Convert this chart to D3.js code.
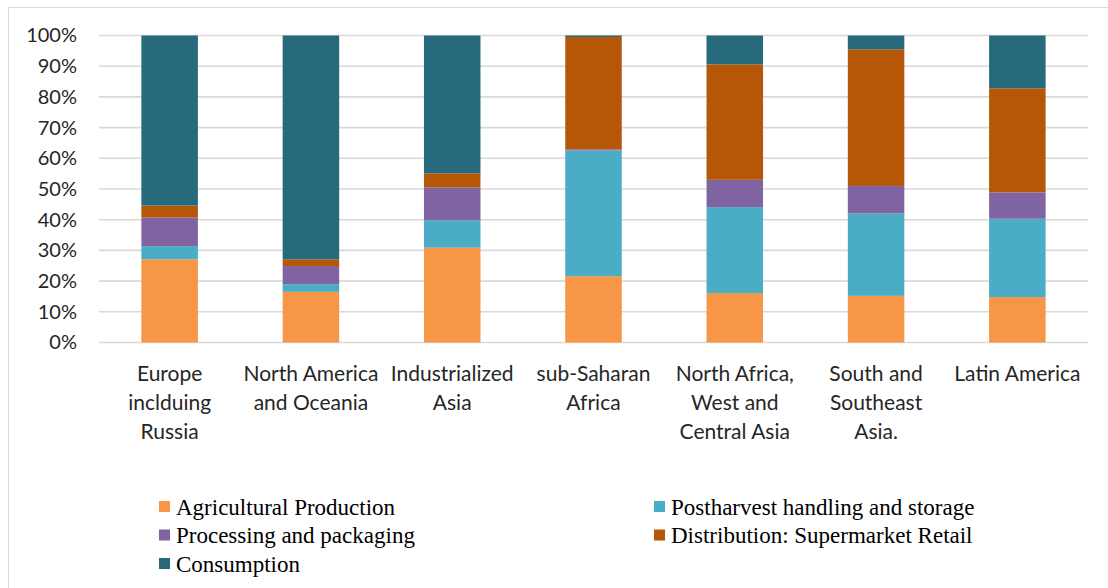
<!DOCTYPE html>
<html>
<head>
<meta charset="utf-8">
<script src="https://cdn.jsdelivr.net/npm/d3@7"></script>
<style>
  body { margin: 0; background: #fff; }
  svg { display: block; }
  .tick text { font-family: Lato, "Open Sans", sans-serif; }
</style>
</head>
<body>
<svg id="chart" width="1108" height="588"></svg>
<script>
// regions on the x axis (labels broken into lines)
var regions = [
  ["Europe", "inclduing", "Russia"],
  ["North America", "and Oceania"],
  ["Industrialized", "Asia"],
  ["sub-Saharan", "Africa"],
  ["North Africa,", "West and", "Central Asia"],
  ["South and", "Southeast", "Asia."],
  ["Latin America"]
];

var stages = [
  "Agricultural Production",
  "Postharvest handling and storage",
  "Processing and packaging",
  "Distribution: Supermarket Retail",
  "Consumption"
];

// share of food loss per stage (%), one value per region
var agricultural = [27.1, 16.5, 30.9, 21.6, 16.1, 15.2, 14.8];
var postharvest  = [4.3, 2.5, 8.9, 40.9, 28.0, 26.8, 25.5];
var processing   = [9.3, 5.9, 10.7, 0.4, 8.9, 9.0, 8.6];
var distribution = [3.9, 2.2, 4.6, 36.6, 37.6, 44.5, 33.9];
var consumption  = [55.4, 72.9, 44.9, 0.5, 9.4, 4.5, 17.2];

var yTicks = [0, 10, 20, 30, 40, 50, 60, 70, 80, 90, 100];

var colors = ["#F79646", "#4BACC6", "#8064A2", "#B65708", "#276A7C"];

var series = [agricultural, postharvest, processing, distribution, consumption];

var rows = regions.map(function (r, i) {
  var o = { key: i };
  stages.forEach(function (s, k) { o[s] = series[k][i]; });
  return o;
});

var svg = d3.select("#chart");

// outer frame like the spreadsheet chart area
svg.append("rect")
  .attr("x", 8.5).attr("y", 7.5)
  .attr("width", 1120).attr("height", 600)
  .attr("fill", "none").attr("stroke", "#d9d9d9").attr("stroke-width", 1);

var x = d3.scaleBand()
  .domain(d3.range(regions.length))
  .range([99, 1088])
  .paddingInner(0.6).paddingOuter(0.3);

var y = d3.scaleLinear().domain([0, 100]).range([342.5, 35.5]);

// gridlines
svg.append("g")
  .selectAll("line").data(yTicks).join("line")
  .attr("x1", 99).attr("x2", 1088)
  .attr("y1", d => y(d)).attr("y2", d => y(d))
  .attr("stroke", "#d9d9d9").attr("stroke-width", 1.6);

// y axis labels
var yAxis = svg.append("g")
  .attr("transform", "translate(80,0)")
  .call(d3.axisLeft(y).tickValues(yTicks).tickSize(0).tickPadding(3).tickFormat(d => d + "%"));
yAxis.select(".domain").remove();
yAxis.selectAll("text")
  .attr("font-size", 20).attr("fill", "#262626");

// stacked bars
var stack = d3.stack().keys(stages)(rows);

svg.append("g")
  .selectAll("g").data(stack).join("g")
  .attr("fill", (d, i) => colors[i])
  .selectAll("rect").data(d => d).join("rect")
  .attr("x", d => x(d.data.key))
  .attr("width", x.bandwidth())
  .attr("y", d => y(d[1]))
  .attr("height", d => y(d[0]) - y(d[1]));

// category labels
var cat = svg.append("g")
  .attr("font-family", "Lato, 'Open Sans', sans-serif")
  .attr("font-size", 21).attr("fill", "#262626")
  .attr("text-anchor", "middle");

regions.forEach(function (lines, i) {
  var t = cat.append("text")
    .attr("x", x(i) + x.bandwidth() / 2)
    .attr("y", 381);
  lines.forEach(function (l, j) {
    t.append("tspan")
      .attr("x", x(i) + x.bandwidth() / 2)
      .attr("dy", j === 0 ? 0 : 29)
      .text(l);
  });
});

// legend, two columns
var legendX = [159, 654];
var legendY = [507, 535.5, 564];

var legend = svg.append("g")
  .attr("font-family", "'Liberation Serif', 'Times New Roman', serif")
  .attr("font-size", 23).attr("fill", "#000");

stages.forEach(function (s, i) {
  var lx = legendX[i % 2], ly = legendY[Math.floor(i / 2)];
  legend.append("rect")
    .attr("x", lx).attr("y", ly - 6)
    .attr("width", 11).attr("height", 11)
    .attr("fill", colors[i]);
  legend.append("text")
    .attr("x", lx + 17).attr("y", ly + 7.5)
    .text(s);
});
</script>
</body>
</html>
